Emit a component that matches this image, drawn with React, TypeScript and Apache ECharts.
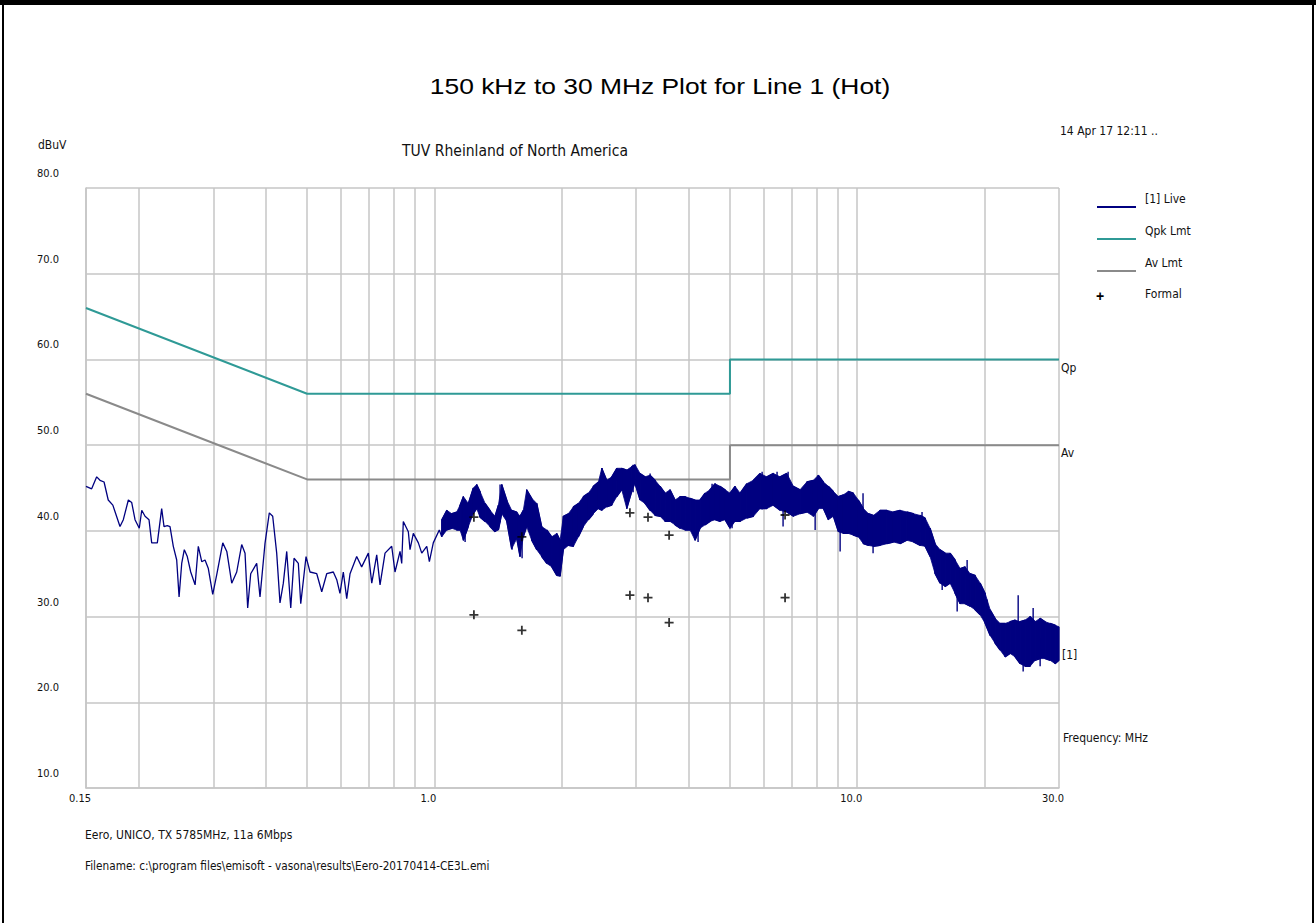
import React, { useEffect, useRef } from "react";
import * as echarts from "echarts";

// ---------- texts ----------
const TITLE = "150 kHz to 30 MHz Plot for Line 1 (Hot)";
const SUBTITLE = "TUV Rheinland of North America";
const DATE_TEXT = "14 Apr 17 12:11 ..";
const Y_UNIT = "dBuV";
const FOOT_1 = "Eero, UNICO, TX 5785MHz, 11a 6Mbps";
const FOOT_2 = "Filename: c:\\program files\\emisoft - vasona\\results\\Eero-20170414-CE3L.emi";
const X_UNIT = "Frequency: MHz";
const legendNames = ["[1] Live", "Qpk Lmt", "Av Lmt", "Formal"];
const rightTags = ["Qp", "Av", "[1]"];

// ---------- axes ----------
const xLabelValues = [0.15, 1, 10, 30];
const xGridValues = [0.15, 0.2, 0.3, 0.4, 0.5, 0.6, 0.7, 0.8, 0.9, 1, 2, 3, 4, 5, 6, 7, 8, 9, 10, 20, 30];
const yMin = 10;
const yMax = 80;
const yStep = 10;

// ---------- limits ----------
const qpkFreq = [0.15, 0.5, 5, 5, 30];
const qpkLevel = [66, 56, 56, 60, 60];
const avFreq = [0.15, 0.5, 5, 5, 30];
const avLevel = [56, 46, 46, 50, 50];

// ---------- formal (final) measurements ----------
const formalFreq = [1.24, 1.24, 1.61, 1.61, 2.9, 2.9, 3.2, 3.2, 3.59, 3.59, 6.75, 6.75];
const formalLevel = [41.6, 30.2, 39.3, 28.4, 42.1, 32.5, 41.6, 32.2, 39.5, 29.3, 41.85, 32.2];

// ---------- live trace, 0.15 - 1 MHz (single line) ----------
const liveLowFreq = [
  0.15, 0.1547, 0.159, 0.1619, 0.1655, 0.1693, 0.1736, 0.1805, 0.1838, 0.1889,
  0.1924, 0.1959, 0.2005, 0.2032, 0.2069, 0.2114, 0.2145, 0.2212, 0.2265, 0.2294,
  0.2335, 0.237, 0.2413, 0.2458, 0.249, 0.2526, 0.2562, 0.2604, 0.2653, 0.2717,
  0.2765, 0.2817, 0.2868, 0.292, 0.2991, 0.3057, 0.3159, 0.3229, 0.3317, 0.3408,
  0.3502, 0.3566, 0.3618, 0.3678, 0.38, 0.3869, 0.3975, 0.407, 0.4146, 0.4237,
  0.4314, 0.4393, 0.4475, 0.4574, 0.4657, 0.4767, 0.483, 0.4971, 0.508, 0.527,
  0.5415, 0.5564, 0.5767, 0.5876, 0.598, 0.609, 0.6204, 0.6317, 0.655, 0.673,
  0.698, 0.711, 0.7305, 0.7438, 0.7643, 0.7926, 0.807, 0.8294, 0.837, 0.8443,
  0.8677, 0.8757, 0.8916, 0.9164, 0.9334, 0.9593, 0.973, 0.994, 1.027,
];
const liveLowLevel = [
  45.2, 44.9, 46.3, 45.9, 45.7, 43.6, 43.0, 40.5, 41.3, 43.6,
  43.3, 41.3, 40.3, 42.4, 41.7, 41.3, 38.6, 38.6, 42.6, 40.5,
  40.6, 40.5, 38.2, 36.6, 32.3, 36.2, 37.8, 37.0, 35.2, 33.7,
  38.2, 36.4, 36.6, 35.6, 32.6, 34.9, 38.6, 37.6, 33.9, 35.2,
  38.4, 37.4, 31.0, 35.0, 36.2, 32.3, 38.5, 42.1, 41.7, 37.4,
  31.6, 33.9, 37.6, 31.0, 36.8, 36.2, 31.5, 37.0, 35.2, 35.0,
  32.9, 35.0, 35.2, 34.3, 32.7, 35.2, 32.1, 35.0, 37.0, 35.8,
  37.4, 33.9, 37.2, 33.7, 37.4, 38.2, 35.2, 37.6, 36.2, 41.1,
  39.9, 37.8, 39.7, 38.6, 37.4, 38.2, 36.4, 38.6, 40.1,
];

// ---------- live trace, 1 - 30 MHz (dense noise band: low / high envelope) ----------
const bandFreq = [
  1.041, 1.07, 1.099, 1.129, 1.15, 1.171, 1.203, 1.236, 1.259, 1.282,
  1.318, 1.354, 1.391, 1.417, 1.443, 1.483, 1.523, 1.566, 1.594, 1.623,
  1.653, 1.699, 1.746, 1.794, 1.844, 1.895, 1.947, 1.983, 2.018, 2.074,
  2.132, 2.19, 2.251, 2.313, 2.376, 2.443, 2.488, 2.556, 2.627, 2.7,
  2.774, 2.851, 2.93, 2.983, 3.065, 3.149, 3.236, 3.326, 3.418, 3.512,
  3.609, 3.709, 3.811, 3.916, 4.024, 4.135, 4.249, 4.366, 4.486, 4.61,
  4.737, 4.868, 5.002, 5.14, 5.284, 5.481, 5.681, 5.891, 6.11, 6.334,
  6.568, 6.812, 7.063, 7.325, 7.597, 7.875, 8.091, 8.316, 8.545, 8.781,
  9.025, 9.273, 9.528, 9.793, 10.06, 10.34, 10.63, 10.92, 11.32, 11.75,
  12.18, 12.63, 13.1, 13.58, 14.09, 14.47, 14.87, 15.28, 15.7, 16.14,
  16.58, 17.04, 17.51, 17.99, 18.49, 19.0, 19.53, 20.07, 20.62, 21.18,
  21.77, 22.37, 22.99, 23.62, 24.27, 24.95, 25.63, 26.34, 27.07, 27.82,
  28.58, 29.38, 30.0,
];
const bandHi = [
  41.3, 42.4, 42.0, 42.2, 43.0, 44.0, 43.2, 45.0, 45.4, 44.6,
  43.2, 42.4, 41.7, 43.0, 45.4, 43.6, 42.4, 42.2, 41.7, 42.4,
  44.8, 43.8, 43.2, 40.5, 40.1, 39.3, 39.7, 38.9, 41.7, 42.0,
  42.8, 43.2, 44.0, 44.4, 45.2, 45.7, 47.3, 45.9, 46.3, 47.3,
  47.3, 47.1, 47.5, 47.7, 46.7, 46.3, 46.5, 45.9, 45.2, 44.4,
  44.8, 43.6, 44.0, 44.0, 43.8, 43.6, 43.6, 44.4, 44.8, 45.5,
  45.2, 44.8, 44.4, 45.2, 44.4, 45.5, 45.9, 46.7, 46.3, 46.7,
  46.3, 46.7, 45.2, 44.8, 45.7, 45.9, 46.5, 45.7, 45.2, 44.6,
  44.0, 44.2, 44.6, 44.4, 43.6, 42.6, 42.0, 41.8, 42.4, 42.4,
  42.2, 42.4, 42.2, 42.0, 41.8, 41.5, 40.3, 38.5, 37.8, 37.4,
  37.4, 36.6, 35.6, 35.8, 35.0, 34.8, 33.9, 32.7, 30.8, 29.8,
  29.2, 29.2, 29.4, 29.6, 29.4, 29.6, 30.0, 29.4, 29.8, 29.4,
  29.2, 29.0, 28.8,
];
const bandLo = [
  39.3, 40.1, 40.3, 40.1, 40.1, 38.9, 40.5, 42.0, 42.6, 41.6,
  41.1, 40.5, 39.9, 40.1, 42.0, 41.1, 37.9, 39.1, 37.0, 39.3,
  40.5, 38.9, 37.8, 37.0, 36.2, 35.8, 34.8, 34.7, 37.8, 38.3,
  38.2, 39.3, 40.5, 41.3, 42.0, 42.6, 42.4, 42.8, 43.0, 44.0,
  44.8, 42.6, 44.6, 45.5, 43.6, 43.2, 42.4, 41.8, 41.7, 41.1,
  41.1, 40.7, 40.3, 40.1, 40.1, 38.9, 40.3, 40.7, 41.1, 41.3,
  41.1, 41.3, 40.3, 41.1, 41.1, 41.5, 41.7, 42.6, 42.6, 43.0,
  42.4, 42.2, 41.7, 42.0, 42.2, 41.7, 42.6, 42.6, 41.3, 41.7,
  39.9, 39.7, 39.7, 39.5, 39.3, 38.5, 38.3, 38.2, 38.3, 38.5,
  38.7, 38.5, 38.9, 38.7, 38.3, 38.2, 37.0, 35.0, 33.9, 33.5,
  33.9, 32.7, 31.5, 31.5, 31.2, 30.8, 30.2, 29.2, 27.8, 26.9,
  26.1, 25.3, 25.7, 25.3, 24.5, 24.2, 24.2, 24.9, 25.1, 25.1,
  24.9, 24.5, 24.9,
];

// ---------- live trace, isolated spikes sticking out of the band ----------
const spikeFreq = [
  1.182, 1.43, 1.526, 1.612, 1.961, 2.493, 2.951, 3.237, 4.203, 4.536,
  5.058, 5.957, 6.462, 6.677, 6.863, 7.951, 8.082, 9.11, 10.32, 10.9,
  14.23, 15.88, 17.23, 18.19, 20.28, 24.02, 24.68, 26.06, 27.07,
];
const spikeLo = [
  38.7, 41.0, 37.8, 36.8, 34.7, 42.4, 44.5, 43.0, 38.7, 41.5,
  40.3, 42.5, 43.0, 40.5, 42.5, 40.1, 42.6, 37.6, 39.0, 37.4,
  38.5, 33.1, 30.6, 32.0, 29.0, 25.5, 23.6, 25.0, 24.2,
];
const spikeHi = [
  43.0, 45.4, 42.0, 41.5, 39.0, 47.3, 47.7, 46.7, 43.0, 45.5,
  44.0, 46.9, 46.9, 44.5, 46.9, 44.5, 46.5, 42.0, 44.4, 41.0,
  42.2, 36.5, 34.5, 36.6, 32.0, 32.5, 27.0, 31.0, 27.5,
];

// ---------- styling ----------
const NARROW = "'Liberation Sans Narrow', 'DejaVu Sans Condensed', 'Liberation Sans', sans-serif";
const ARIAL = "'Liberation Sans', Arial, sans-serif";
const GRID_COLOR = "#c6c6c6";
const LIVE_COLOR = "#000080";
const QPK_COLOR = "#2f9a96";
const AV_COLOR = "#8a8a8a";

const GRID_LEFT = 86;
const GRID_TOP = 188;
const GRID_W = 973;
const GRID_H = 600;

function buildOption() {
  const liveData: number[][] = liveLowFreq.map((f, i) => [f, liveLowLevel[i]]);
  bandFreq.forEach((f, i) => {
    if (i % 2 === 0) {
      liveData.push([f, bandLo[i]], [f, bandHi[i]]);
    } else {
      liveData.push([f, bandHi[i]], [f, bandLo[i]]);
    }
  });

  const txt = (
    text: string,
    x: number,
    y: number,
    fontSize: number,
    font: string,
    align: string = "left",
    color: string = "#111",
    scaleX: number = 1,
    fontWeight: string = "normal"
  ) => ({
    type: "text",
    x,
    y,
    scaleX,
    silent: true,
    style: {
      text,
      fontSize,
      fontFamily: font,
      fontWeight,
      fill: color,
      align,
      verticalAlign: "middle",
    },
  });

  const legendY = [207, 239, 271];
  const legendColors = [LIVE_COLOR, QPK_COLOR, AV_COLOR];

  const graphic: any[] = [
    { type: "rect", shape: { x: 0, y: 0, width: 1316, height: 5 }, style: { fill: "#000" }, silent: true },
    { type: "rect", shape: { x: 2, y: 0, width: 2, height: 923 }, style: { fill: "#000" }, silent: true },
    { type: "rect", shape: { x: 1312, y: 0, width: 2, height: 923 }, style: { fill: "#000" }, silent: true },
    txt(TITLE, 660, 86, 22, ARIAL, "center", "#000", 1.2),
    txt(SUBTITLE, 515, 151, 15.5, NARROW, "center"),
    txt(DATE_TEXT, 1060, 131, 12, NARROW),
    txt(Y_UNIT, 38, 145, 12, NARROW),
    txt(FOOT_1, 85, 835, 12, NARROW),
    txt(FOOT_2, 85, 866, 12, NARROW, "left", "#111", 0.975),
    txt(X_UNIT, 1063, 738, 12, NARROW),
    txt(rightTags[0], 1061, 368, 12, NARROW),
    txt(rightTags[1], 1061, 453, 12, NARROW),
    txt(rightTags[2], 1062, 655, 12, NARROW),
  ];
  legendY.forEach((y, i) => {
    graphic.push({
      type: "line",
      silent: true,
      shape: { x1: 1097, y1: y, x2: 1136, y2: y },
      style: { stroke: legendColors[i], lineWidth: 2 },
    });
    graphic.push(txt(legendNames[i], 1145, y - 8, 12, NARROW));
  });
  graphic.push(txt("+", 1100, 296, 14, ARIAL, "center", "#000", 1, "bold"));
  graphic.push(txt(legendNames[3], 1145, 294, 12, NARROW));

  return {
    animation: false,
    backgroundColor: "#ffffff",
    grid: { left: GRID_LEFT, top: GRID_TOP, width: GRID_W, height: GRID_H, containLabel: false },
    xAxis: {
      type: "log",
      logBase: 10,
      min: 0.15,
      max: 30,
      axisLine: { show: true, lineStyle: { color: GRID_COLOR, width: 1.5 } },
      axisTick: { show: false, customValues: xGridValues },
      splitLine: { show: true, lineStyle: { color: GRID_COLOR, width: 1.5 } },
      axisLabel: {
        customValues: xLabelValues,
        formatter: (v: number) => (v < 1 ? Number(v).toFixed(2) : Number(v).toFixed(1)),
        fontSize: 11,
        fontFamily: NARROW,
        color: "#111",
        margin: 5,
        padding: [0, 12, 0, 0],
      },
    },
    yAxis: {
      type: "value",
      min: yMin,
      max: yMax,
      interval: yStep,
      axisLine: { show: true, lineStyle: { color: GRID_COLOR, width: 1.5 } },
      axisTick: { show: false },
      splitLine: { show: true, lineStyle: { color: GRID_COLOR, width: 1.5 } },
      axisLabel: {
        formatter: (v: number) => Number(v).toFixed(1),
        align: "left",
        verticalAlign: "bottom",
        margin: GRID_LEFT - 37,
        padding: [0, 0, 9, 0],
        fontSize: 11,
        fontFamily: NARROW,
        color: "#111",
      },
    },
    graphic,
    series: [
      {
        name: "Av Lmt",
        type: "line",
        data: avFreq.map((f, i) => [f, avLevel[i]]),
        symbol: "none",
        lineStyle: { color: AV_COLOR, width: 2 },
        silent: true,
        z: 3,
      },
      {
        name: "Qpk Lmt",
        type: "line",
        data: qpkFreq.map((f, i) => [f, qpkLevel[i]]),
        symbol: "none",
        lineStyle: { color: QPK_COLOR, width: 2 },
        silent: true,
        z: 3,
      },
      {
        name: "band",
        type: "custom",
        silent: true,
        z: 4,
        clip: true,
        data: bandFreq.map((f, i) => [f, bandLo[i], bandHi[i]]),
        encode: { x: 0, y: [1, 2] },
        renderItem: (params: any, api: any) => {
          const i = params.dataIndex;
          if (i >= bandFreq.length - 1) return null;
          const a = api.coord([bandFreq[i], bandLo[i]]);
          const b = api.coord([bandFreq[i], bandHi[i]]);
          const c = api.coord([bandFreq[i + 1], bandHi[i + 1]]);
          const d = api.coord([bandFreq[i + 1], bandLo[i + 1]]);
          return {
            type: "polygon",
            shape: { points: [a, b, c, d] },
            style: { fill: LIVE_COLOR, stroke: LIVE_COLOR, lineWidth: 0.8 },
          };
        },
      },
      {
        name: "spikes",
        type: "custom",
        silent: true,
        z: 5,
        clip: true,
        data: spikeFreq.map((f, i) => [f, spikeLo[i], spikeHi[i]]),
        encode: { x: 0, y: [1, 2] },
        renderItem: (params: any, api: any) => {
          const lo = api.coord([api.value(0), api.value(1)]);
          const hi = api.coord([api.value(0), api.value(2)]);
          return {
            type: "line",
            shape: { x1: lo[0], y1: lo[1], x2: hi[0], y2: hi[1] },
            style: { stroke: LIVE_COLOR, lineWidth: 1.4 },
          };
        },
      },
      {
        name: "[1] Live",
        type: "line",
        data: liveData,
        symbol: "none",
        lineStyle: { color: LIVE_COLOR, width: 1.3 },
        silent: true,
        z: 5,
      },
      {
        name: "Formal",
        type: "scatter",
        data: formalFreq.map((f, i) => [f, formalLevel[i]]),
        symbol: "path://M4,0H6V4H10V6H6V10H4V6H0V4H4Z",
        symbolSize: 9,
        itemStyle: { color: "#000" },
        silent: true,
        z: 6,
      },
    ],
  };
}

export default function App() {
  const ref = useRef<HTMLDivElement>(null);
  useEffect(() => {
    document.body.style.margin = "0";
    if (!ref.current) return;
    const chart = echarts.init(ref.current, null, { renderer: "svg" });
    chart.setOption(buildOption() as any);
    return () => {
      chart.dispose();
    };
  }, []);
  return <div ref={ref} style={{ width: 1316, height: 923, background: "#fff" }} />;
}
